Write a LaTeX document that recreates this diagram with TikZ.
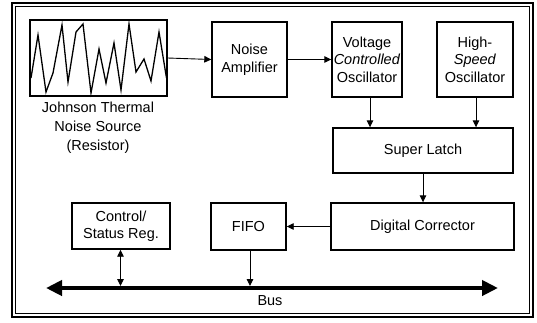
\documentclass[tikz,border=0pt]{standalone}
\usepackage{fontspec}
\setmainfont{Liberation Sans}
\usetikzlibrary{arrows.meta}
\begin{document}
\begin{tikzpicture}[x=1pt,y=-1pt,
  blk/.style={draw=black,line width=1.4pt,inner sep=0pt,align=center,
    font=\fontsize{14.5}{17.5}\selectfont},
  conn/.style={draw=black,line width=0.9pt,-{Triangle[length=7pt,width=6.5pt]}},
  conn2/.style={draw=black,line width=0.9pt,{Triangle[length=7pt,width=6.5pt]}-{Triangle[length=7pt,width=6.5pt]}},
  busline/.style={draw=black,line width=4pt,{Triangle[length=16pt,width=15pt]}-{Triangle[length=16pt,width=15pt]}},
  lbl/.style={inner sep=0pt,align=center,font=\fontsize{14.5}{19}\selectfont}]
\useasboundingbox (0,0) rectangle (537,322);
% frame
\draw[line width=1.8pt] (12,3) rectangle (533,317);
\draw[line width=1.1pt] (15.5,6.5) rectangle (529.5,313.5);
% source
\node[blk,minimum width=137pt,minimum height=76pt] (src) at (98.5,58) {};
\draw[line width=1.3pt,line join=miter] (31,78) -- (38,35) -- (46,92) -- (53,73) -- (62,25) -- (68,82) -- (76,32) -- (83,24) -- (91,93) -- (99,49) -- (106,83) -- (114,43) -- (121,90) -- (129,24) -- (136,72) -- (144,59) -- (151,81) -- (159,32) -- (166.5,78);
\node[lbl] (srclbl) at (98,128) {Johnson Thermal\\Noise Source\\(Resistor)};
% blocks
\node[blk,minimum width=75pt,minimum height=75pt] (amp) at (249.5,59.5) {Noise\\Amplifier};
\node[blk,minimum width=70pt,minimum height=75pt] (vco) at (367,59.5) {Voltage\\\textit{Controlled}\\Oscillator};
\node[blk,minimum width=76pt,minimum height=75pt] (hso) at (475,59.5) {High-\\\textit{Speed}\\Oscillator};
\node[blk,minimum width=180pt,minimum height=45pt] (latch) at (423,150.5) {Super Latch};
\node[blk,minimum width=183pt,minimum height=47pt] (corr) at (422.5,226.5) {Digital Corrector};
\node[blk,minimum width=75pt,minimum height=47pt] (fifo) at (248.5,226.5) {FIFO};
\node[blk,minimum width=98pt,minimum height=46pt] (csr) at (121,226) {Control/\\Status Reg.};
% bus
\coordinate (busL) at (46,288);
\coordinate (busR) at (498,288);
\coordinate (bustop) at (270,286);
\draw[busline] (busL) -- (busR);
\node[lbl] (buslbl) at (270,301) {Bus};
% connectors
\draw[conn] (src.east) -- (amp.west);
\draw[conn] (amp.east) -- (vco.west);
\draw[conn] ([xshift=3pt]vco.south) -- ([xshift=3pt]vco.south |- latch.north);
\draw[conn] ([xshift=1pt]hso.south) -- ([xshift=1pt]hso.south |- latch.north);
\draw[conn] (latch.south) -- (latch.south |- corr.north);
\draw[conn] (corr.west) -- (fifo.east);
\draw[conn2] ([xshift=-0.5pt]csr.south) -- ([xshift=-0.5pt]csr.south |- bustop);
\draw[conn] ([xshift=1.5pt]fifo.south) -- ([xshift=1.5pt]fifo.south |- bustop);
\end{tikzpicture}
\end{document}
